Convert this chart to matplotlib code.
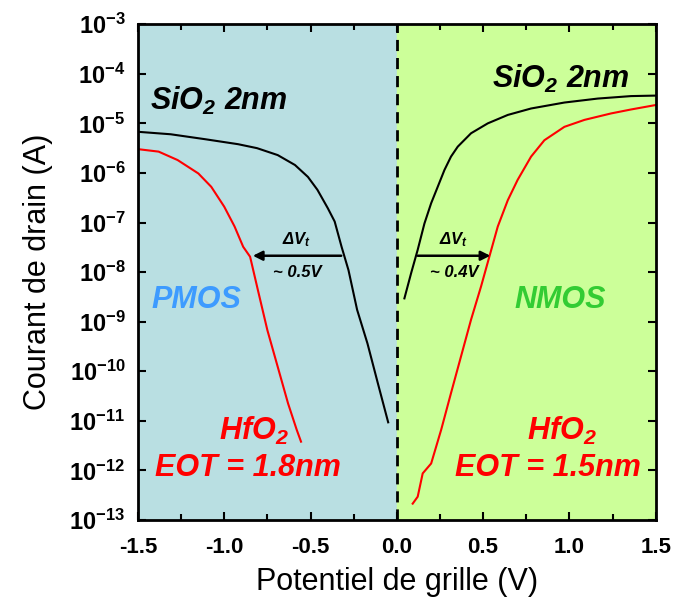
import numpy as np
import matplotlib
matplotlib.use("Agg")
import matplotlib.pyplot as plt
from matplotlib.ticker import FixedLocator, FuncFormatter, MultipleLocator

plt.rcParams['font.family'] = ['Liberation Sans', 'DejaVu Sans']
plt.rcParams['mathtext.default'] = 'regular'

# Vg (V) and log10(Id) of the transfer curves
pmos_sio2_v = [-1.50, -1.31, -1.11, -0.92, -0.81, -0.69, -0.59, -0.515, -0.46, -0.40, -0.36,
               -0.32, -0.28, -0.23, -0.17, -0.11, -0.05]
pmos_sio2_log = [-5.17, -5.22, -5.32, -5.42, -5.50, -5.64, -5.84, -6.08, -6.34, -6.71, -6.98,
                 -7.49, -7.96, -8.76, -9.44, -10.24, -11.03]

pmos_hfo2_v = [-1.50, -1.38, -1.27, -1.15, -1.075, -1.00, -0.94, -0.89, -0.85, -0.805, -0.75,
               -0.69, -0.63, -0.58, -0.555]
pmos_hfo2_log = [-5.52, -5.57, -5.74, -6.01, -6.28, -6.68, -7.08, -7.49, -7.69, -8.36, -9.17,
                 -9.91, -10.65, -11.18, -11.42]

nmos_sio2_v = [0.044, 0.083, 0.121, 0.160, 0.199, 0.237, 0.276, 0.314, 0.353, 0.430, 0.527,
               0.643, 0.778, 0.971, 1.164, 1.357, 1.50]
nmos_sio2_log = [-8.53, -8.02, -7.55, -7.02, -6.61, -6.28, -5.94, -5.67, -5.47, -5.20, -5.00,
                 -4.83, -4.70, -4.58, -4.50, -4.45, -4.44]

nmos_hfo2_v = [0.092, 0.121, 0.150, 0.199, 0.257, 0.314, 0.372, 0.430, 0.488, 0.536, 0.585,
               0.643, 0.700, 0.778, 0.855, 0.971, 1.087, 1.241, 1.357, 1.50]
nmos_hfo2_log = [-12.67, -12.53, -12.06, -11.86, -11.18, -10.44, -9.70, -8.96, -8.29, -7.69, -7.08,
                 -6.55, -6.14, -5.67, -5.34, -5.07, -4.93, -4.80, -4.72, -4.63]

# threshold shift arrows: start V, end V, log10 Id, label
dvt_start = [-0.322, 0.121]
dvt_end = [-0.834, 0.542]
dvt_log = [-7.67, -7.67]
dvt_text = ['~ 0.5V', '~ 0.4V']

fig = plt.figure(figsize=(6.76, 6.05), dpi=100)
ax = fig.add_axes([0.204, 0.1405, 0.766, 0.8195])

ax.axvspan(-1.5, 0, color='#b9dfe2', zorder=0)
ax.axvspan(0, 1.5, color='#ccff99', zorder=0)
ax.axvline(0, color='black', lw=2, ls=(0, (4, 2.5)), zorder=1)

ax.plot(pmos_sio2_v, 10 ** np.array(pmos_sio2_log), color='black', lw=1.5)
ax.plot(nmos_sio2_v, 10 ** np.array(nmos_sio2_log), color='black', lw=1.5)
ax.plot(pmos_hfo2_v, 10 ** np.array(pmos_hfo2_log), color='red', lw=1.5)
ax.plot(nmos_hfo2_v, 10 ** np.array(nmos_hfo2_log), color='red', lw=1.5)

for x0, x1, ly, t in zip(dvt_start, dvt_end, dvt_log, dvt_text):
    ax.annotate('', xy=(x1, 10 ** ly), xytext=(x0, 10 ** ly),
                arrowprops=dict(arrowstyle='-|>', color='black', lw=1.8,
                                mutation_scale=14, shrinkA=0, shrinkB=0))
    xm = (x0 + x1) / 2
    ax.text(xm, 10 ** (ly + 0.33), u'\u0394V$_t$', ha='center', va='center',
            fontsize=12, fontweight='bold', style='italic')
    ax.text(xm, 10 ** (ly - 0.33), t, ha='center', va='center',
            fontsize=12, fontweight='bold', style='italic')

big = dict(fontsize=22, fontweight='bold', style='italic')
ax.text(-1.43, 10 ** -4.55, 'SiO$_2$ 2nm', ha='left', va='center', color='black', **big)
ax.text(0.55, 10 ** -4.1, 'SiO$_2$ 2nm', ha='left', va='center', color='black', **big)
ax.text(-1.42, 10 ** -8.56, 'PMOS', ha='left', va='center', color='#3d9bff', **big)
ax.text(0.68, 10 ** -8.56, 'NMOS', ha='left', va='center', color='#33cc33', **big)
ax.text(-0.83, 10 ** -11.2, 'HfO$_2$', ha='center', va='center', color='red', **big)
ax.text(-0.86, 10 ** -11.95, 'EOT = 1.8nm', ha='center', va='center', color='red', **big)
ax.text(0.955, 10 ** -11.2, 'HfO$_2$', ha='center', va='center', color='red', **big)
ax.text(0.875, 10 ** -11.95, 'EOT = 1.5nm', ha='center', va='center', color='red', **big)

ax.set_xlim(-1.5, 1.5)
ax.set_yscale('log')
ax.set_ylim(1e-13, 1e-3)
ax.xaxis.set_major_locator(MultipleLocator(0.5))
ax.xaxis.set_minor_locator(MultipleLocator(0.25))
ax.yaxis.set_major_locator(FixedLocator([10.0 ** k for k in range(-13, -2)]))
ax.yaxis.set_minor_locator(FixedLocator([]))
ax.xaxis.set_major_formatter(FuncFormatter(lambda v, p: '%.1f' % v))
ax.yaxis.set_major_formatter(FuncFormatter(lambda v, p: '10$^{%d}$' % round(np.log10(v))))
ax.tick_params(which='both', direction='in', top=True, right=True, width=1.5)
ax.tick_params(which='major', length=6)
ax.tick_params(which='minor', length=4)
ax.tick_params(axis='x', labelsize=16, pad=12)
ax.tick_params(axis='y', labelsize=17, pad=9)
for lab in ax.get_xticklabels() + ax.get_yticklabels():
    lab.set_fontweight('bold')
for s in ax.spines.values():
    s.set_linewidth(2)

ax.set_xlabel('Potentiel de grille (V)', fontsize=22, labelpad=7)
ax.set_ylabel('Courant de drain (A)', fontsize=22, labelpad=12)

fig.savefig('out.png', dpi=100)
